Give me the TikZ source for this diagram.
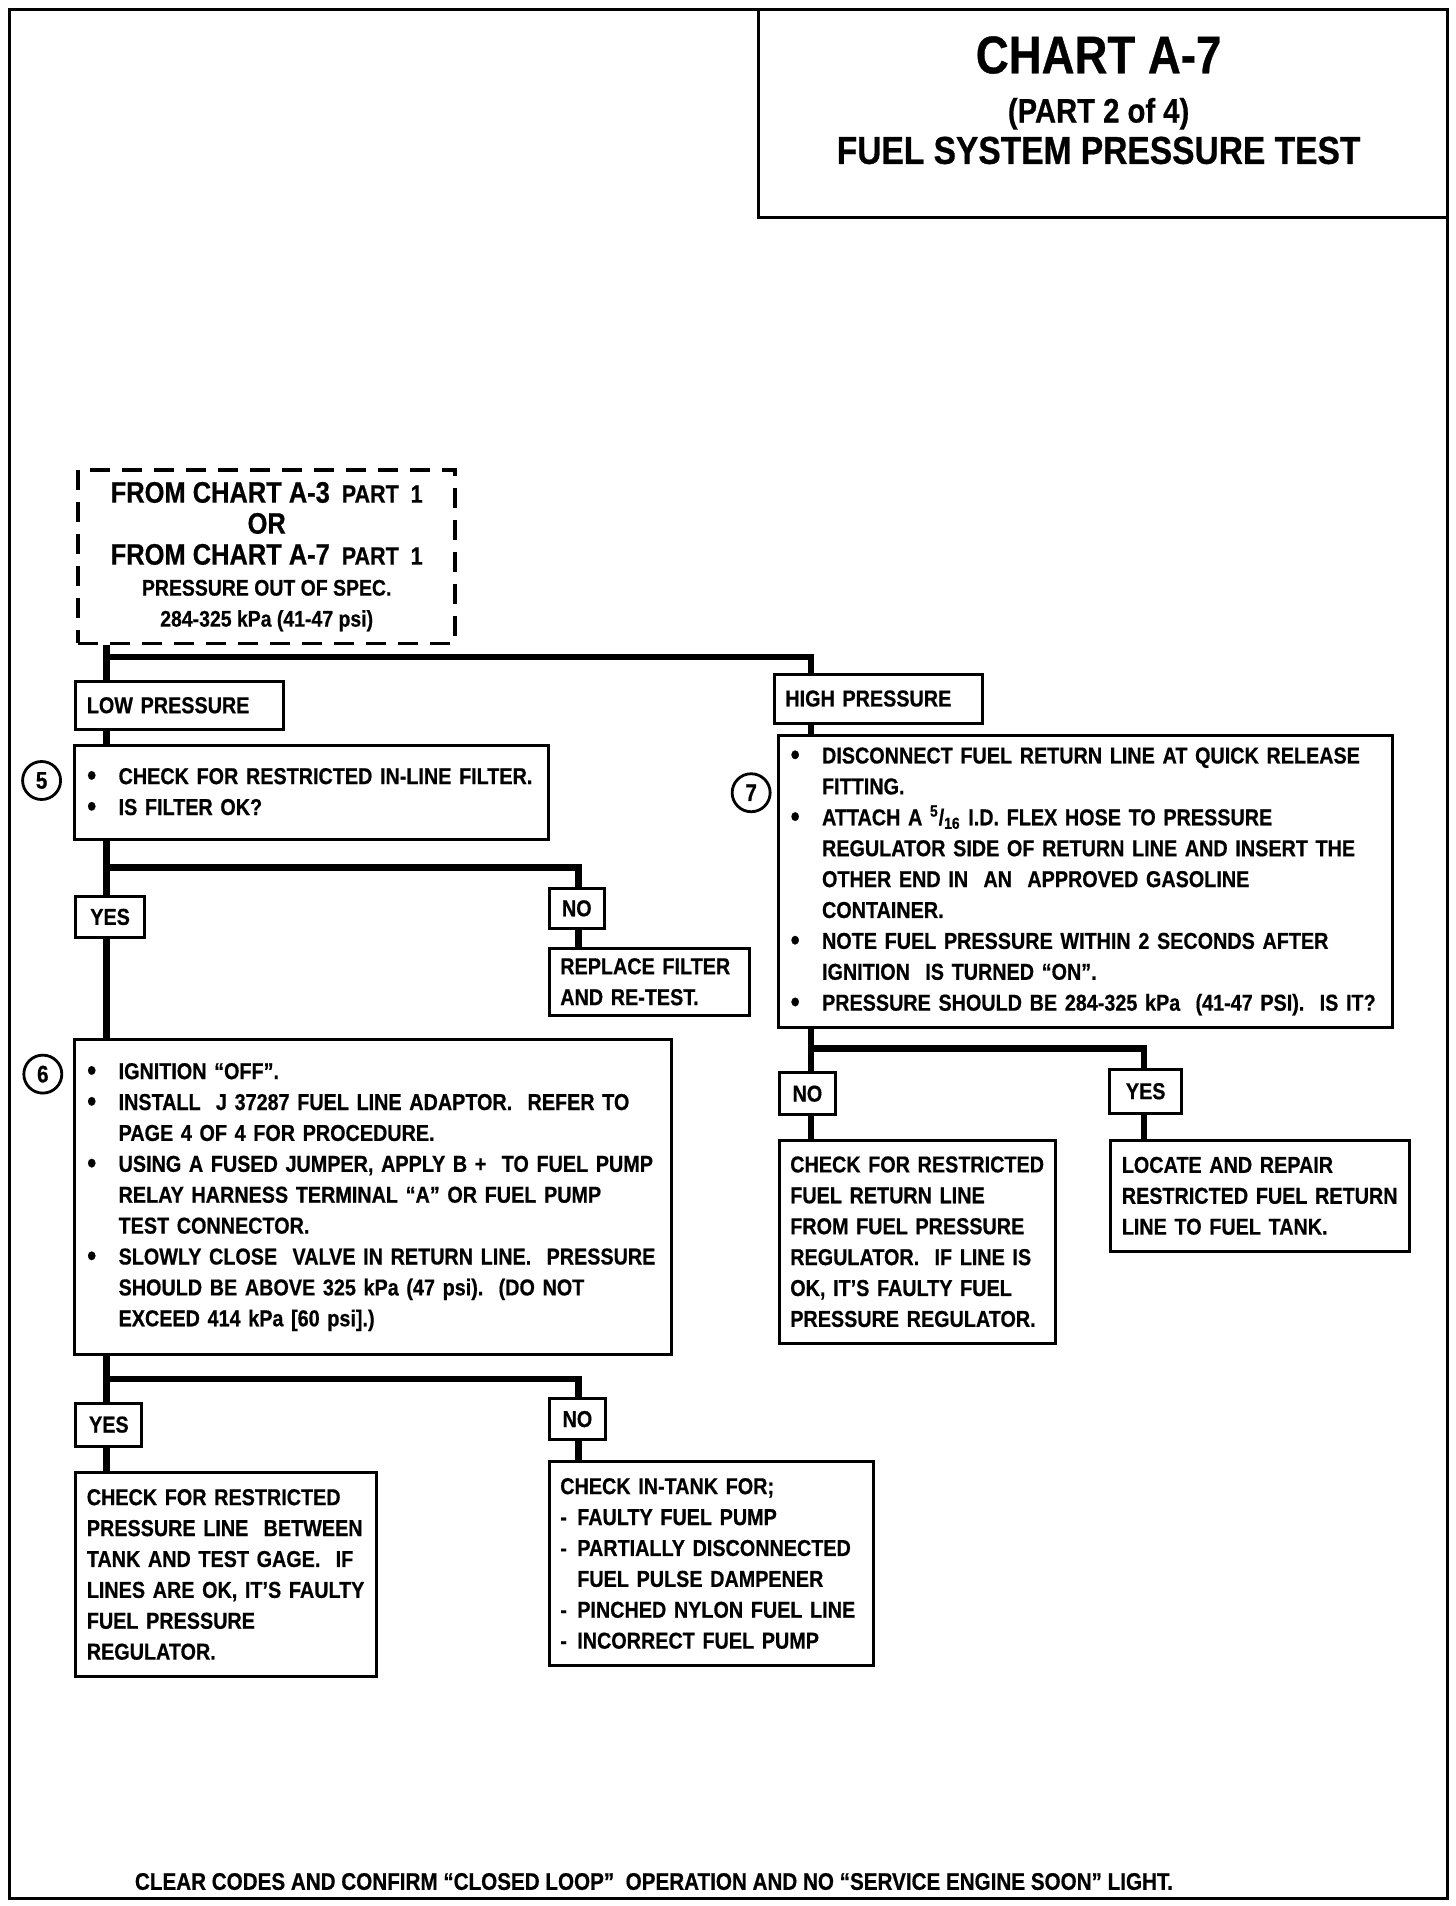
\documentclass[tikz,border=0pt]{standalone}
\usepackage{fontspec}
\newfontfamily\chartfont{Liberation Sans}[FakeStretch=0.86, FakeBold=0.6]
\usetikzlibrary{positioning}
\newcommand{\bul}{\makebox[16.5pt][l]{\hspace{0.8pt}\raisebox{-0.6pt}{\fontsize{15}{15}\selectfont\textbullet}}}
\newcommand{\ind}{\hspace*{16.5pt}}
\newcommand{\dsh}{\makebox[8.5pt][l]{-}}
\begin{document}
\begin{tikzpicture}[x=0.61175pt, y=-0.61175pt,
  box/.style 2 args={draw=black, line width=1.5pt, fill=white, inner xsep=5.5pt, inner ysep=0pt,
    minimum width=#1*0.61175pt, minimum height=#2*0.61175pt, text width=#1*0.61175pt-11pt,
    align=left, font=\chartfont\bfseries\fontsize{11.5}{15.45}\selectfont},
  answer/.style 2 args={box={#1}{#2}, align=center},
  dashbox/.style={draw=black, line width=1.8pt, dash pattern=on 10pt off 6pt, align=center,
    minimum width=308*0.61175pt, minimum height=142*0.61175pt,
    font=\chartfont\bfseries\fontsize{12.5}{15.5}\selectfont},
  marker/.style={circle, draw=black, line width=1.4pt, inner sep=0pt, minimum size=19pt,
    font=\chartfont\bfseries\fontsize{12}{14}\selectfont},
  flow/.style={draw=black, line width=3.2pt},
  heading/.style={inner sep=0pt, font=\chartfont\bfseries}]
  \useasboundingbox (0,0) rectangle (1190,1558);
  \draw[line width=1.7pt] (8,8) rectangle (1183,1552);
  % title block
  \node[draw=black, line width=1.4pt, minimum width=563*0.61175pt, minimum height=170*0.61175pt] (Title) at (901.5,93) {};
  \node[heading, font=\chartfont\bfseries\fontsize{26.5}{30}\selectfont] (ChartNo) at (898,45) {CHART A-7};
  \node[heading, font=\chartfont\bfseries\fontsize{17}{20}\selectfont] (ChartPart) at (898,93) {(PART 2 of 4)};
  \node[heading, font=\chartfont\bfseries\fontsize{19.5}{22}\selectfont] (ChartName) at (898,123) {FUEL SYSTEM PRESSURE TEST};
  % start
  \node[dashbox] (From) at (218,455) {{\fontsize{14.8}{15.5}\selectfont FROM CHART A-3}\ \ PART\ \ 1\\
    {\fontsize{14.8}{15.5}\selectfont OR}\\
    {\fontsize{14.8}{15.5}\selectfont FROM CHART A-7}\ \ PART\ \ 1\\
    {\fontsize{11.3}{15.5}\selectfont PRESSURE OUT OF SPEC.}\\
    {\fontsize{11.3}{15.5}\selectfont 284-325 kPa (41-47 psi)}};
  \node[box={170}{39}] (Low) at (147,576.5) {LOW PRESSURE};
  \node[box={170}{40}] (High) at (718,571) {HIGH PRESSURE};
  % low pressure side
  \node[box={387}{77}] (Step5) at (254.5,647.5) {\bul CHECK FOR RESTRICTED IN-LINE FILTER.\\
    \bul IS FILTER OK?};
  \node[marker] (Mark5) at (34,638) {5};
  \node[answer={56}{33}] (Yes5) at (90,749.5) {YES};
  \node[answer={45}{33}] (No5) at (471.5,742.5) {NO};
  \node[box={164}{55}] (Replace) at (531,802.5) {REPLACE FILTER\\ AND RE-TEST.};
  \node[box={488}{257}] (Step6) at (305,978.5) {\bul IGNITION “OFF”.\\
    \bul INSTALL\ \ J 37287 FUEL LINE ADAPTOR.\ \ REFER TO\\
    \ind PAGE 4 OF 4 FOR PROCEDURE.\\
    \bul USING A FUSED JUMPER, APPLY B +\ \ TO FUEL PUMP\\
    \ind RELAY HARNESS TERMINAL “A” OR FUEL PUMP\\
    \ind TEST CONNECTOR.\\
    \bul SLOWLY CLOSE\ \ VALVE IN RETURN LINE.\ \ PRESSURE\\
    \ind SHOULD BE ABOVE 325 kPa (47 psi).\ \ (DO NOT\\
    \ind EXCEED 414 kPa [60 psi].)};
  \node[marker] (Mark6) at (35,878) {6};
  \node[answer={54}{35}] (Yes6) at (89,1164.5) {YES};
  \node[answer={46}{34}] (No6) at (472,1160) {NO};
  \node[box={246}{166}] (PressLine) at (185,1287) {CHECK FOR RESTRICTED\\
    PRESSURE LINE\ \ BETWEEN\\
    TANK AND TEST GAGE.\ \ IF\\
    LINES ARE OK, IT’S FAULTY\\
    FUEL PRESSURE\\
    REGULATOR.};
  \node[box={265}{166}] (InTank) at (581.5,1278) {CHECK IN-TANK FOR;\\
    \dsh FAULTY FUEL PUMP\\
    \dsh PARTIALLY DISCONNECTED\\
    \hspace*{8.5pt}FUEL PULSE DAMPENER\\
    \dsh PINCHED NYLON FUEL LINE\\
    \dsh INCORRECT FUEL PUMP};
  % high pressure side
  \node[box={502}{239}] (Step7) at (887,720.5) {\bul DISCONNECT FUEL RETURN LINE AT QUICK RELEASE\\
    \ind FITTING.\\
    \bul ATTACH A \textsuperscript{5}/\textsubscript{16} I.D. FLEX HOSE TO PRESSURE\\
    \ind REGULATOR SIDE OF RETURN LINE AND INSERT THE\\
    \ind OTHER END IN\ \ AN\ \ APPROVED GASOLINE\\
    \ind CONTAINER.\\
    \bul NOTE FUEL PRESSURE WITHIN 2 SECONDS AFTER\\
    \ind IGNITION\ \ IS TURNED “ON”.\\
    \bul PRESSURE SHOULD BE 284-325 kPa\ \ (41-47 PSI).\ \ IS IT?};
  \node[marker] (Mark7) at (614,648) {7};
  \node[answer={46}{34}] (No7) at (660,894) {NO};
  \node[answer={59}{36}] (Yes7) at (936.5,892) {YES};
  \node[box={226}{166}] (ReturnLine) at (750,1015) {CHECK FOR RESTRICTED\\
    FUEL RETURN LINE\\
    FROM FUEL PRESSURE\\
    REGULATOR.\ \ IF LINE IS\\
    OK, IT’S FAULTY FUEL\\
    PRESSURE REGULATOR.};
  \node[box={244}{91}] (Repair) at (1030,977.5) {LOCATE AND REPAIR\\
    RESTRICTED FUEL RETURN\\
    LINE TO FUEL TANK.};
  \node[heading, anchor=west, font=\chartfont\bfseries\fontsize{12}{14}\selectfont] (Footer) at (110,1538)
    {CLEAR CODES AND CONFIRM “CLOSED LOOP”\ \ OPERATION AND NO “SERVICE ENGINE SOON” LIGHT.};
  % connectors
  \coordinate (ColL) at (87,0);
  \coordinate (ColM) at (473,0);
  \coordinate (ColR) at (663,0);
  \coordinate (ColRR) at (935,0);
  \coordinate (Fork1) at (87,537);
  \coordinate (Fork5) at (87,709);
  \coordinate (Fork6) at (87,1127);
  \coordinate (Fork7) at (663,857);
  \draw[flow] (From.south -| ColL) -- (Low.north -| ColL);
  \draw[flow] (Fork1) -| (High.north -| ColR);
  \draw[flow] (Low.south -| ColL) -- (Step5.north -| ColL);
  \draw[flow] (Step5.south -| ColL) -- (Yes5.north -| ColL);
  \draw[flow] (Fork5) -| (No5.north -| ColM);
  \draw[flow] (No5.south -| ColM) -- (Replace.north -| ColM);
  \draw[flow] (Yes5.south -| ColL) -- (Step6.north -| ColL);
  \draw[flow] (Step6.south -| ColL) -- (Yes6.north -| ColL);
  \draw[flow] (Fork6) -| (No6.north -| ColM);
  \draw[flow] (Yes6.south -| ColL) -- (PressLine.north -| ColL);
  \draw[flow] (No6.south -| ColM) -- (InTank.north -| ColM);
  \draw[flow] (High.south -| ColR) -- (Step7.north -| ColR);
  \draw[flow] (Step7.south -| ColR) -- (No7.north -| ColR);
  \draw[flow] (Fork7) -| (Yes7.north -| ColRR);
  \draw[flow] (No7.south -| ColR) -- (ReturnLine.north -| ColR);
  \draw[flow] (Yes7.south -| ColRR) -- (Repair.north -| ColRR);
\end{tikzpicture}
\end{document}
